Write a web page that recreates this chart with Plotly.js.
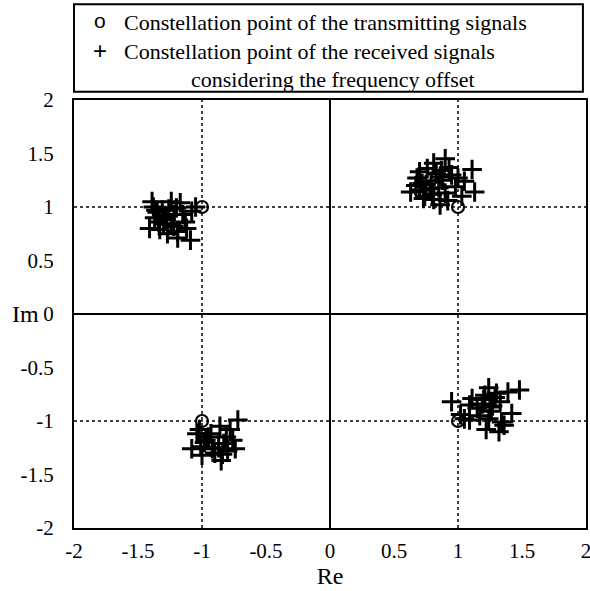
<!DOCTYPE html>
<html>
<head>
<meta charset="utf-8">
<script src="https://cdn.plot.ly/plotly-3.0.1.min.js"></script>
<style>html,body{margin:0;padding:0;background:#fff;}#chart{width:590px;height:591px;}</style>
</head>
<body>
<div id="chart"></div>
<script>
// Transmitted constellation points
const txRe = [1, -1, -1, 1];
const txIm = [1, 1, -1, -1];

// Received constellation points (with frequency offset)
const rxRe = [
  // cluster near (-1, 1)
  -1.39, -1.38, -1.24, -1.17, -1.31, -1.37, -1.41, -1.33, -1.28, -1.22, -1.19, -1.19, -1.09, -1.08, -1.05, -1.13,
  -1.35, -1.26, -1.30, -1.22, -1.15, -1.27, -1.34, -1.20, -1.12, -1.29, -1.36, -1.24,
  // cluster near (1, 1)
  0.90, 0.81, 1.11, 0.70, 0.68, 0.86, 1.05, 0.75, 0.63, 1.13, 0.73, 0.81, 0.90, 0.98, 1.03, 0.86, 0.78, 0.93, 0.83,
  0.72, 0.88, 0.95, 0.80, 0.67, 0.92, 0.76, 0.85, 1.00, 0.70, 0.79, 0.87, 0.74,
  // cluster near (-1, -1)
  -1.04, -1.08, -1.00, -0.92, -0.95, -0.86, -0.78, -0.72, -0.83, -0.85, -0.74, -0.87, -1.02, -0.81, -0.98,
  -0.90, -0.76, -1.01, -0.80, -0.93, -0.84, -0.97,
  // cluster near (1, -1)
  0.95, 1.02, 1.09, 1.11, 1.09, 1.24, 1.21, 1.19, 1.26, 1.24, 1.22, 1.32, 1.34, 1.42, 1.39, 1.48, 1.30, 1.33, 1.27,
  1.15, 1.17, 1.36, 1.29, 1.05, 1.20, 1.25
];
const rxIm = [
  // cluster near (-1, 1)
  1.05, 1.00, 1.05, 1.04, 0.97, 0.90, 0.80, 0.79, 0.88, 0.93, 0.77, 0.71, 0.69, 0.96, 1.00, 0.86,
  0.95, 0.98, 0.84, 0.82, 0.93, 0.75, 0.86, 0.99, 0.80, 0.92, 0.97, 0.84,
  // cluster near (1, 1)
  1.45, 1.41, 1.35, 1.33, 1.27, 1.28, 1.24, 1.21, 1.14, 1.14, 1.08, 1.07, 1.13, 1.19, 1.10, 1.02, 1.17, 1.37, 1.31,
  1.22, 1.25, 1.30, 1.12, 1.20, 1.06, 1.36, 1.18, 1.27, 1.16, 1.24, 1.34, 1.10,
  // cluster near (-1, -1)
  -1.12, -1.26, -1.32, -1.26, -1.15, -1.05, -1.08, -0.99, -1.21, -1.37, -1.26, -1.25, -1.08, -1.15, -1.20,
  -1.30, -1.18, -1.24, -1.28, -1.12, -1.31, -1.18,
  // cluster near (1, -1)
  -0.82, -0.94, -0.99, -0.79, -0.85, -0.69, -0.76, -0.84, -0.91, -0.98, -1.08, -1.10, -1.01, -0.93, -0.73, -0.71, -0.74, -0.82, -0.86,
  -0.88, -0.95, -1.04, -0.78, -0.98, -0.80, -0.87
];

const tickVals = [-2, -1.5, -1, -0.5, 0, 0.5, 1, 1.5, 2];
const xTickText = ['-2', '-1.5', '-1', '-0.5', '0', '0.5', '1', '1.5', '2'];
const yTickText = ['-2', '-1.5', '-1', '-0.5', '0', '0.5', '1', '1.5', '2'];
const gridVals = [-1, 1];

const legendLabels = [
  'Constellation point of the transmitting signals',
  'Constellation point of the received signals',
  'considering the frequency offset'
];

const FONT = 'Liberation Serif, Times New Roman, serif';

const traces = [
  {
    x: txRe, y: txIm, type: 'scatter', mode: 'markers', name: 'tx',
    marker: {symbol: 'circle-open', size: 12, color: '#000', line: {width: 2.2, color: '#000'}},
    cliponaxis: false
  },
  {
    x: rxRe, y: rxIm, type: 'scatter', mode: 'markers', name: 'rx',
    marker: {symbol: 'cross-thin-open', size: 14, color: '#000', line: {width: 3, color: '#000'}},
    cliponaxis: false
  }
];

const shapes = [];
gridVals.forEach(v => {
  shapes.push({type: 'line', xref: 'x', yref: 'paper', x0: v, x1: v, y0: 0, y1: 1,
    line: {color: '#000', width: 1.5, dash: 'dot'}, layer: 'below'});
  shapes.push({type: 'line', xref: 'paper', yref: 'y', x0: 0, x1: 1, y0: v, y1: v,
    line: {color: '#000', width: 1.5, dash: 'dot'}, layer: 'below'});
});
// legend box
shapes.push({type: 'rect', xref: 'paper', yref: 'paper', x0: 0, x1: 0.994, y0: 1.019, y1: 1.224,
  line: {color: '#000', width: 2}, fillcolor: 'rgba(0,0,0,0)'});

const annotations = [
  {xref: 'paper', yref: 'paper', x: 0.051, y: 1.185, text: 'o', showarrow: false,
   font: {family: 'Liberation Sans, Arial, sans-serif', size: 21, color: '#000'}, xanchor: 'center', yanchor: 'middle'},
  {xref: 'paper', yref: 'paper', x: 0.051, y: 1.116, text: '+', showarrow: false,
   font: {family: 'Liberation Sans, Arial, sans-serif', size: 24, color: '#000'}, xanchor: 'center', yanchor: 'middle'},
  {xref: 'paper', yref: 'paper', x: 0.094, y: 1.180, text: legendLabels[0], showarrow: false,
   font: {family: FONT, size: 22, color: '#000'}, xanchor: 'left', yanchor: 'middle'},
  {xref: 'paper', yref: 'paper', x: 0.094, y: 1.113, text: legendLabels[1], showarrow: false,
   font: {family: FONT, size: 22, color: '#000'}, xanchor: 'left', yanchor: 'middle'},
  {xref: 'paper', yref: 'paper', x: 0.225, y: 1.048, text: legendLabels[2], showarrow: false,
   font: {family: FONT, size: 22, color: '#000'}, xanchor: 'left', yanchor: 'middle'},
  {xref: 'paper', yref: 'y', x: -0.064, y: 0, text: 'Im', showarrow: false,
   font: {family: FONT, size: 24, color: '#000'}, xanchor: 'right', yanchor: 'middle'}
];

const layout = {
  width: 590, height: 591,
  margin: {l: 74, r: 4, t: 100, b: 63},
  paper_bgcolor: '#fff', plot_bgcolor: '#fff',
  showlegend: false,
  font: {family: FONT, size: 21, color: '#000'},
  xaxis: {
    range: [-2, 2], tickvals: tickVals, ticktext: xTickText, showgrid: false,
    zeroline: true, zerolinecolor: '#000', zerolinewidth: 1.5,
    showline: true, linecolor: '#000', linewidth: 2, mirror: true,
    ticks: '', ticklabelstandoff: 3, ticklabeloverflow: 'allow',
    tickfont: {family: FONT, size: 21, color: '#000'},
    title: {text: 'Re', font: {family: FONT, size: 24, color: '#000'}, standoff: 0}
  },
  yaxis: {
    range: [-2, 2], tickvals: tickVals, ticktext: yTickText, showgrid: false,
    zeroline: true, zerolinecolor: '#000', zerolinewidth: 1.5,
    showline: true, linecolor: '#000', linewidth: 2, mirror: true,
    ticks: '', ticklabelstandoff: 14, ticklabeloverflow: 'allow',
    tickfont: {family: FONT, size: 21, color: '#000'}
  },
  shapes: shapes,
  annotations: annotations
};

Plotly.newPlot('chart', traces, layout, {staticPlot: true, displayModeBar: false});
</script>
</body>
</html>
